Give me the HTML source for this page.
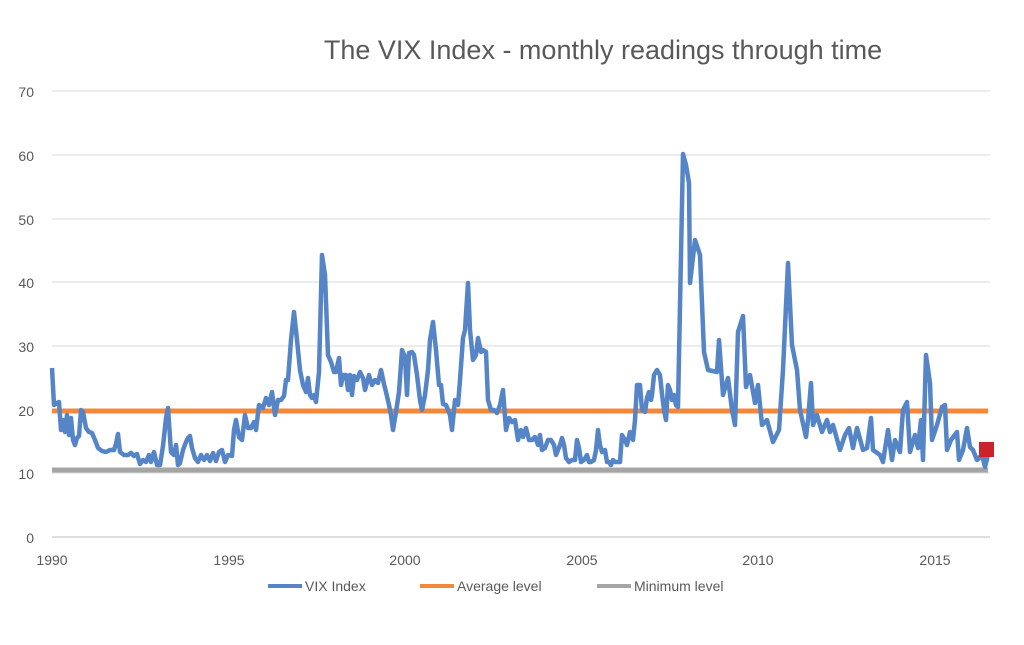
<!DOCTYPE html>
<html><head><meta charset="utf-8"><style>
body{margin:0;background:#fff;}
svg text{font-family:"Liberation Sans",sans-serif;fill:#595959;}
</style></head><body>
<svg width="1024" height="640" viewBox="0 0 1024 640" xmlns="http://www.w3.org/2000/svg">
<rect width="1024" height="640" fill="#fff"/>
<text x="603" y="59" font-size="27" text-anchor="middle">The VIX Index - monthly readings through time</text>
<g stroke="#d9d9d9" stroke-width="1">
<line x1="52" y1="91" x2="990" y2="91"/><line x1="52" y1="155" x2="990" y2="155"/>
<line x1="52" y1="219" x2="990" y2="219"/><line x1="52" y1="282" x2="990" y2="282"/>
<line x1="52" y1="346" x2="990" y2="346"/><line x1="52" y1="410" x2="990" y2="410"/>
<line x1="52" y1="473" x2="990" y2="473"/></g>
<line x1="52" y1="537" x2="990" y2="537" stroke="#bfbfbf" stroke-width="1"/>
<g font-size="14" text-anchor="end">
<text x="34" y="97">70</text><text x="34" y="161">60</text><text x="34" y="225">50</text>
<text x="34" y="288">40</text><text x="34" y="352">30</text><text x="34" y="416">20</text>
<text x="34" y="479">10</text><text x="34" y="543">0</text></g>
<g font-size="14" text-anchor="middle">
<text x="52" y="565">1990</text><text x="229" y="565">1995</text><text x="405" y="565">2000</text>
<text x="582" y="565">2005</text><text x="758" y="565">2010</text><text x="935" y="565">2015</text></g>
<line x1="52" y1="470" x2="988" y2="470" stroke="#a5a5a5" stroke-width="5"/>
<line x1="52" y1="411" x2="988" y2="411" stroke="#f4883a" stroke-width="5"/>
<polyline fill="none" stroke="#5585c6" stroke-width="4.5" stroke-linejoin="round" points="52,368 54,405 57,403 59,402 61,430 63,420 65,432 67,415 69,435 71,418 73,440 75,445 77,438 79,436 81,410 83,412 86,428 89,432 92,433 95,440 98,448 102,451 106,452 110,450 114,450 116,444 118,434 120,452 124,455 128,455 131,453 134,456 137,454 140,464 143,460 146,462 149,455 151,462 154,452 157,465 160,465 163,446 166,418 168,408 171,452 174,455 176,445 178,465 180,463 183,450 186,442 188,438 190,436 192,448 195,458 198,462 201,455 204,460 207,455 210,461 213,453 216,461 219,452 222,450 225,462 228,455 232,456 234,430 236,420 239,437 242,440 245,415 248,428 251,428 254,422 256,430 259,405 263,408 266,398 269,405 272,392 275,415 278,400 281,400 284,396 286,380 288,380 291,340 294,312 297,340 300,370 303,385 306,392 308,378 310,395 312,398 314,395 316,402 319,372 322,255 325,275 328,355 331,362 334,372 336,372 339,358 341,385 343,375 346,375 348,390 350,375 352,395 354,376 357,380 360,372 363,378 365,390 369,375 372,385 375,380 378,383 381,370 384,384 386,392 389,405 391,415 393,430 396,412 399,392 402,350 405,357 407,395 409,353 412,352 414,355 417,375 420,400 422,410 425,395 428,370 430,340 433,322 436,350 439,385 441,385 443,404 446,405 448,410 450,415 452,430 455,400 458,405 460,380 463,338 465,330 468,283 470,330 473,360 476,355 478,338 481,352 483,350 486,352 488,400 491,410 494,410 497,413 500,405 503,390 506,430 509,418 512,422 515,420 518,440 521,430 523,437 526,428 529,440 532,440 535,437 538,445 540,435 542,450 545,448 548,440 551,440 554,445 556,455 558,450 560,445 562,438 564,445 566,458 569,462 572,460 575,460 577,440 579,448 581,462 584,460 587,455 589,462 591,462 594,460 596,450 598,430 600,445 602,452 605,450 607,462 609,462 611,465 613,460 615,462 617,462 620,462 622,435 625,440 627,445 630,432 633,440 635,420 637,385 640,385 642,410 645,412 647,398 649,392 651,400 652,395 654,375 657,370 660,375 662,394 664,410 666,420 668,385 670,390 672,400 674,395 676,405 678,407 683,154 686,165 689,183 690,283 695,240 700,255 704,352 708,370 717,372 719,340 723,395 728,378 732,410 735,425 738,332 743,316 746,387 750,375 755,403 758,385 762,425 767,420 773,442 779,430 783,370 788,263 792,345 797,370 800,410 806,437 808,420 811,383 813,425 817,415 822,432 827,420 830,432 833,425 840,450 845,435 849,428 853,448 857,428 863,450 867,448 871,418 873,450 880,455 883,462 888,430 892,460 895,440 900,452 903,410 907,402 910,452 915,435 918,448 921,420 923,460 926,355 930,383 932,440 937,425 942,407 945,405 947,450 951,440 957,432 959,460 963,450 967,428 970,447 973,450 977,460 982,455 985,467 988,455"/>
<rect x="979" y="442" width="15" height="15" fill="#cc2229"/>
<g font-size="14">
<line x1="268" y1="586" x2="302" y2="586" stroke="#5585c6" stroke-width="4"/>
<text x="305" y="591">VIX Index</text>
<line x1="420" y1="586" x2="454" y2="586" stroke="#f4883a" stroke-width="4"/>
<text x="457" y="591">Average level</text>
<line x1="597" y1="586" x2="631" y2="586" stroke="#a5a5a5" stroke-width="4"/>
<text x="634" y="591">Minimum level</text>
</g>
</svg>
</body></html>
